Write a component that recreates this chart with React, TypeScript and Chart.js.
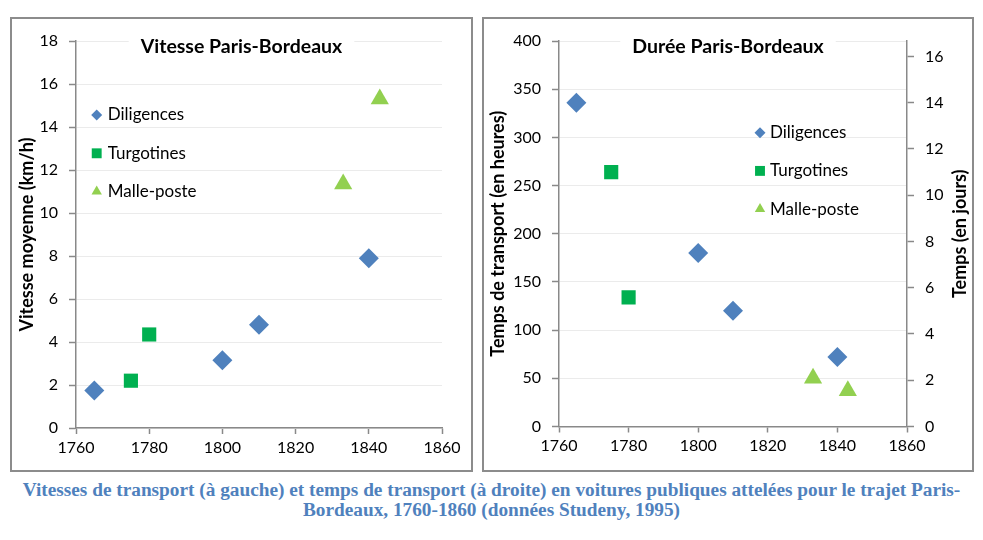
import { useEffect, useRef } from "react"
import { Chart, registerables } from "chart.js"
import { drawPoint } from "chart.js/helpers"

Chart.register(...registerables)

// séries
const seriesNames = ["Diligences", "Turgotines", "Malle-poste"]
const seriesColors = ["#4F81BD", "#00B050", "#92D050"]
const seriesShapes = ["rectRot", "rect", "triangle"]

// années
const diligencesYears = [1765, 1800, 1810, 1840]
const turgotinesYears = [1775, 1780]
const mallePosteYears = [1833, 1843]

// vitesse moyenne (km/h)
const diligencesSpeed = [1.75, 3.15, 4.8, 7.9]
const turgotinesSpeed = [2.2, 4.35]
const mallePosteSpeed = [11.35, 15.3]

// temps de transport (heures)
const diligencesHours = [336, 180, 120, 72]
const turgotinesHours = [264, 134]
const mallePosteHours = [50, 37]

const FONT = "Lato"
const AXIS = "#898989"
const GRID = "#EBEBEB"

const markerRadius = [10, 10, 10.5]
const legendRadius = [5.5, 7, 6]

const innerTitle = {
  id: "innerTitle",
  beforeDatasetsDraw(chart: any, _args: any, opts: any) {
    const ctx = chart.ctx
    ctx.save()
    ctx.font = `bold 19.5px ${FONT}`
    const w = ctx.measureText(opts.text).width
    const x = chart.width / 2
    ctx.fillStyle = "#fff"
    ctx.fillRect(x - w / 2 - 12, opts.y - 13, w + 24, 26)
    ctx.fillStyle = "#000"
    ctx.textAlign = "center"
    ctx.textBaseline = "middle"
    ctx.fillText(opts.text, x, opts.y)
    ctx.restore()
  },
}

// titre de l'axe droit, lu de bas en haut comme dans Excel
const sideTitle = {
  id: "sideTitle",
  afterDraw(chart: any, _args: any, opts: any) {
    if (!opts || !opts.text) return
    const ctx = chart.ctx
    const area = chart.chartArea
    ctx.save()
    ctx.font = `bold 18px ${FONT}`
    ctx.fillStyle = "#000"
    ctx.textAlign = "center"
    ctx.textBaseline = "middle"
    ctx.translate(opts.x, (area.top + area.bottom) / 2)
    ctx.rotate(-Math.PI / 2)
    ctx.fillText(opts.text, 0, 0)
    ctx.restore()
  },
}

const innerLegend = {
  id: "innerLegend",
  afterDraw(chart: any, _args: any, opts: any) {
    const ctx = chart.ctx
    ctx.save()
    ctx.font = `17px ${FONT}`
    ctx.textBaseline = "middle"
    seriesNames.forEach((name, i) => {
      const y = opts.y + i * opts.gap
      ctx.fillStyle = seriesColors[i]
      ctx.strokeStyle = seriesColors[i]
      ctx.lineWidth = 0
      drawPoint(ctx, { pointStyle: seriesShapes[i], radius: legendRadius[i], rotation: 0, borderWidth: 0 } as any, opts.x, y)
      ctx.fillStyle = "#000"
      ctx.fillText(name, opts.textX, y)
    })
    ctx.restore()
  },
}

function makeDatasets(values: number[][]) {
  const years = [diligencesYears, turgotinesYears, mallePosteYears]
  return seriesNames.map((name, i) => ({
    label: name,
    data: years[i].map((yr, j) => ({ x: yr, y: values[i][j] })),
    pointStyle: seriesShapes[i],
    pointRadius: markerRadius[i],
    pointHoverRadius: markerRadius[i],
    backgroundColor: seriesColors[i],
    borderColor: seriesColors[i],
    borderWidth: 0,
    showLine: false,
  }))
}

const xScale = (height: number) => ({
  type: "linear",
  min: 1760,
  max: 1860,
  ticks: { stepSize: 20, color: "#000", font: { family: FONT, size: 16 }, padding: 4, callback: (v: any) => String(v) },
  grid: { drawOnChartArea: false, tickLength: 6, tickColor: AXIS, tickWidth: 1.5 },
  border: { color: AXIS, width: 1.5 },
  afterFit: (s: any) => {
    s.height = height
  },
})

const yTitle = (text: string, pad: number) => ({
  display: true,
  text,
  color: "#000",
  font: { family: FONT, size: 18, weight: "bold" },
  padding: { top: pad, bottom: 0 },
})

function Panel({ config, box, canvas }: { config: any; box: any; canvas: any }) {
  const chartRef = useRef<HTMLCanvasElement>(null)
  const chartInstance = useRef<Chart | null>(null)

  useEffect(() => {
    if (!chartRef.current) return
    if (chartInstance.current) chartInstance.current.destroy()
    const ctx = chartRef.current.getContext("2d")
    if (!ctx) return
    chartInstance.current = new Chart(ctx, config)
    return () => {
      if (chartInstance.current) chartInstance.current.destroy()
      chartInstance.current = null
    }
  }, [config])

  return (
    <>
      <div
        style={{
          position: "absolute",
          boxSizing: "border-box",
          border: "2px solid #8C8C8C",
          background: "#fff",
          ...box,
        }}
      />
      <div style={{ position: "absolute", ...canvas }}>
        <canvas ref={chartRef} />
      </div>
    </>
  )
}

const speedConfig = {
  type: "scatter",
  data: { datasets: makeDatasets([diligencesSpeed, turgotinesSpeed, mallePosteSpeed]) },
  plugins: [innerTitle, innerLegend, sideTitle],
  options: {
    animation: false,
    responsive: true,
    maintainAspectRatio: false,
    layout: { padding: { top: 22, right: 29, left: 0, bottom: 0 } },
    plugins: {
      legend: { display: false },
      tooltip: { enabled: false },
      innerTitle: { text: "Vitesse Paris-Bordeaux", y: 27.7 },
      innerLegend: { x: 84.7, textX: 95.7, y: 96, gap: 38.3 },
      sideTitle: { text: "" },
    },
    scales: {
      x: xScale(42),
      y: {
        type: "linear",
        min: 0,
        max: 18,
        ticks: { stepSize: 2, color: "#000", font: { family: FONT, size: 16 }, padding: 11 },
        grid: { color: GRID, tickLength: 7, tickColor: AXIS, tickWidth: 1.5 },
        border: { color: AXIS, width: 1.5 },
        title: yTitle("Vitesse moyenne (km/h)", 4.2),
        afterFit: (s: any) => {
          s.width = 64
        },
      },
    },
  },
}

const durationConfig = {
  type: "scatter",
  data: { datasets: makeDatasets([diligencesHours, turgotinesHours, mallePosteHours]) },
  plugins: [innerTitle, innerLegend, sideTitle],
  options: {
    animation: false,
    responsive: true,
    maintainAspectRatio: false,
    layout: { padding: { top: 22, right: 0, left: 0, bottom: 0 } },
    plugins: {
      legend: { display: false },
      tooltip: { enabled: false },
      innerTitle: { text: "Durée Paris-Bordeaux", y: 27.7 },
      innerLegend: { x: 276, textX: 286, y: 113.7, gap: 38.2 },
      sideTitle: { text: "Temps (en jours)", x: 476 },
    },
    scales: {
      x: xScale(43.5),
      y: {
        type: "linear",
        position: "left",
        min: 0,
        max: 400,
        ticks: { stepSize: 50, color: "#000", font: { family: FONT, size: 16 }, padding: 11 },
        grid: { color: GRID, tickLength: 7, tickColor: AXIS, tickWidth: 1.5 },
        border: { color: AXIS, width: 1.5 },
        title: yTitle("Temps de transport (en heures)", 3.2),
        afterFit: (s: any) => {
          s.width = 75
        },
      },
      y2: {
        type: "linear",
        position: "right",
        min: 0,
        max: 400 / 24,
        ticks: { stepSize: 2, includeBounds: false, color: "#000", font: { family: FONT, size: 16 }, padding: 11 },
        grid: { drawOnChartArea: false, tickLength: 7, tickColor: AXIS, tickWidth: 1.5 },
        border: { color: AXIS, width: 1.5 },
        afterFit: (s: any) => {
          s.width = 65
        },
      },
    },
  },
}

export default function App() {
  return (
    <div style={{ position: "absolute", left: 0, top: 0, width: 983, height: 540, background: "#fff", overflow: "hidden" }}>
      <Panel
        config={speedConfig}
        box={{ left: 10, top: 17, width: 463, height: 455 }}
        canvas={{ left: 12, top: 19, width: 459, height: 451 }}
      />
      <Panel
        config={durationConfig}
        box={{ left: 482, top: 17, width: 492, height: 455 }}
        canvas={{ left: 484, top: 19, width: 488, height: 451 }}
      />
      <div
        style={{
          position: "absolute",
          left: 0,
          top: 480,
          width: 983,
          textAlign: "center",
          whiteSpace: "nowrap",
          fontFamily: "'Liberation Serif', serif",
          fontWeight: "bold",
          fontSize: 19.3,
          lineHeight: "20px",
          color: "#4F81BD",
        }}
      >
        Vitesses de transport (à gauche) et temps de transport (à droite) en voitures publiques attelées pour le trajet Paris-
        <br />
        Bordeaux, 1760-1860 (données Studeny, 1995)
      </div>
    </div>
  )
}
